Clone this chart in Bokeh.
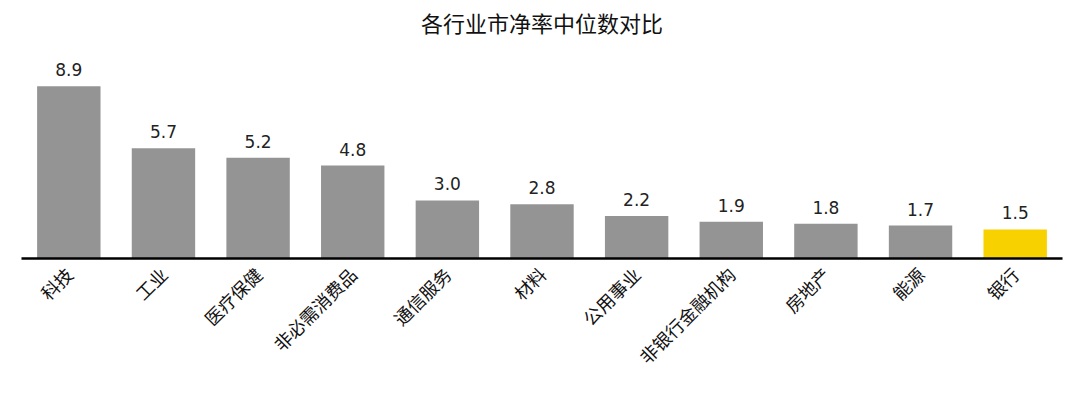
import math
from bokeh.plotting import figure
from bokeh.models import ColumnDataSource, Range1d
from bokeh.core.properties import value
from bokeh.embed import file_html
from bokeh.resources import INLINE

categories = ["科技", "工业", "医疗保健", "非必需消费品", "通信服务", "材料",
              "公用事业", "非银行金融机构", "房地产", "能源", "银行"]
values = [8.9, 5.7, 5.2, 4.8, 3.0, 2.8, 2.2, 1.9, 1.8, 1.7, 1.5]
labels = ["8.9", "5.7", "5.2", "4.8", "3.0", "2.8", "2.2", "1.9", "1.8", "1.7", "1.5"]
highlight = ["银行"]

colors = ["#F7D100" if c in highlight else "#949494" for c in categories]
src = ColumnDataSource(dict(cat=categories, val=values, lab=labels, color=colors))

p = figure(x_range=categories, y_range=Range1d(0, 11),
           frame_width=1041, frame_height=213,
           output_backend="svg", toolbar_location=None,
           title="各行业市净率中位数对比",
           min_border_left=21, min_border_right=6, min_border_top=37)
p.title.align = "center"
p.title.vertical_align = "top"
p.title.text_font = "Noto Sans CJK SC"
p.title.text_font_size = "22px"
p.title.text_font_style = "normal"
p.title.text_color = "#111111"
p.title.offset = 0
p.title.standoff = 11

p.vbar(x="cat", top="val", width=0.67, source=src, color="color", line_color=None)
p.text(x="cat", y="val", text="lab", source=src, text_align="center",
       text_baseline="bottom", y_offset=-10, text_font=value("DejaVu Sans"),
       text_font_size="17px", text_color="#222222")

p.yaxis.visible = False
p.xgrid.visible = False
p.ygrid.visible = False
p.outline_line_color = None
p.xaxis.axis_line_color = "black"
p.xaxis.axis_line_width = 2.5
p.xaxis.major_tick_line_color = None
p.xaxis.minor_tick_line_color = None
p.xaxis.major_label_orientation = math.pi / 4
p.xaxis.major_label_text_font = "Noto Sans CJK SC"
p.xaxis.major_label_text_font_size = "18px"
p.xaxis.major_label_text_color = "#111111"
p.xaxis.major_label_standoff = 6
p.background_fill_color = "white"
p.border_fill_color = "white"

open("out.html", "w").write(file_html(p, INLINE))
